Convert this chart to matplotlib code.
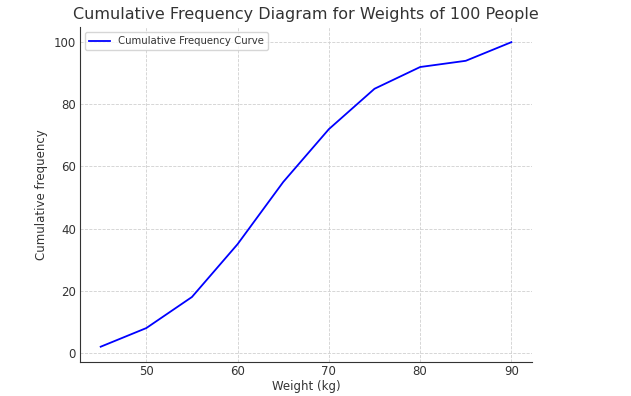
import matplotlib
matplotlib.use('Agg')
import matplotlib.pyplot as plt

# Datos
pesos = [45, 50, 55, 60, 65, 70, 75, 80, 85, 90]
frecuencia_acumulada = [2, 8, 18, 35, 55, 72, 85, 92, 94, 100]

plt.rcParams['text.color'] = '#333333'
plt.rcParams['axes.labelcolor'] = '#333333'
plt.rcParams['xtick.color'] = '#333333'
plt.rcParams['ytick.color'] = '#333333'

fig = plt.figure(figsize=(6.31, 3.96), dpi=100)
ax = fig.add_axes([0.127, 0.086, 0.716, 0.846])

ax.plot(pesos, frecuencia_acumulada, color='blue', linewidth=1.3, label='Cumulative Frequency Curve')
ax.set_title('Cumulative Frequency Diagram for Weights of 100 People', fontsize=11.5)
ax.set_xlabel('Weight (kg)', fontsize=8.5, labelpad=2)
ax.set_ylabel('Cumulative frequency', fontsize=8.5)
ax.grid(True, linestyle='--', linewidth=0.6, color='#d0d0d0')
ax.tick_params(axis='x', length=0, labelsize=8.5, pad=2)
ax.tick_params(axis='y', length=0, labelsize=8.5, pad=3)
for lado in ['top', 'right']:
    ax.spines[lado].set_visible(False)
for lado in ['left', 'bottom']:
    ax.spines[lado].set_color('#333333')
ax.legend(loc='upper left', fontsize=7.3, handlelength=2, frameon=True)

fig.savefig('out.png', dpi=100)
